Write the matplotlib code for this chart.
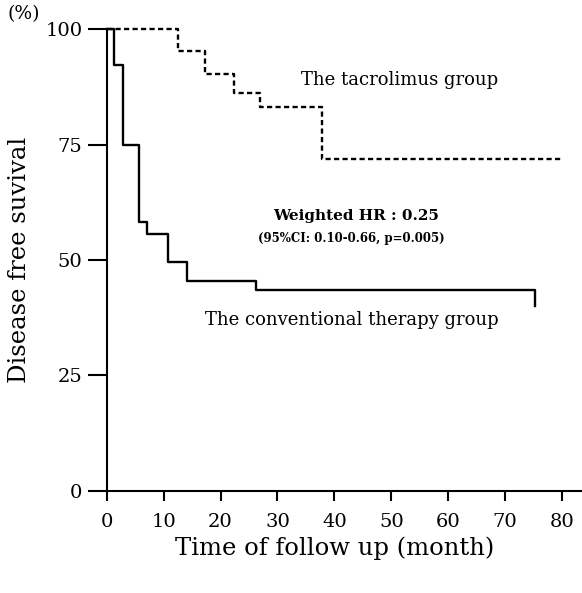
import numpy as np
import matplotlib
matplotlib.use('Agg')
import matplotlib.pyplot as plt

plt.rcParams['font.family'] = ['DejaVu Serif']

# Kaplan-Meier step data (time in months, survival in %)
conv_t = [0, 1.2, 2.9, 5.7, 7.0, 10.7, 14.1, 26.2, 75.3]
conv_s = [100, 92.3, 75.0, 58.3, 55.6, 49.5, 45.5, 43.5, 40.0]

tacro_t = [0, 12.5, 17.2, 22.4, 26.9, 37.9, 80.0]
tacro_s = [100, 95.2, 90.3, 86.3, 83.1, 71.8, 71.8]

xticks = [0, 10, 20, 30, 40, 50, 60, 70, 80]
yticks = [0, 25, 50, 75, 100]

fig = plt.figure(figsize=(5.82, 5.93), dpi=100)
ax = fig.add_axes([0.1833, 0.1725, 0.8167, 0.7781])

ax.step(conv_t, conv_s, where='post', color='black', lw=1.7, clip_on=False)
ax.step(tacro_t, tacro_s, where='post', color='black', lw=1.7,
        linestyle=(0, (2.2, 1.4)), clip_on=False)

ax.set_xlim(0, 83.5)
ax.set_ylim(0, 100)
ax.set_xticks(xticks)
ax.set_yticks(yticks)

for s in ['top', 'right']:
    ax.spines[s].set_visible(False)
for s in ['left', 'bottom']:
    ax.spines[s].set_linewidth(1.5)

ax.tick_params(axis='y', direction='out', length=13.5, width=1.5, labelsize=14, pad=4)
ax.tick_params(axis='x', direction='out', length=7, width=1.5, labelsize=14, pad=9)

ax.set_xlabel('Time of follow up (month)', fontsize=17.5)
ax.xaxis.set_label_coords(0.479, -0.100)
ax.set_ylabel('Disease free suvival', fontsize=17.5, labelpad=10)

fig.text(0.013, 0.977, '(%)', fontsize=13.5, ha='left', va='center')

ax.text(51.4, 89.0, 'The tacrolimus group', fontsize=13, ha='center', va='center')
ax.text(43.0, 37.0, 'The conventional therapy group', fontsize=13, ha='center', va='center')
ax.text(43.8, 59.5, 'Weighted HR : 0.25', fontsize=11, fontweight='bold',
        ha='center', va='center')
ax.text(42.9, 54.6, '(95%CI: 0.10-0.66, p=0.005)', fontsize=8.5, fontweight='bold',
        ha='center', va='center')

fig.savefig('out.png', dpi=100)
